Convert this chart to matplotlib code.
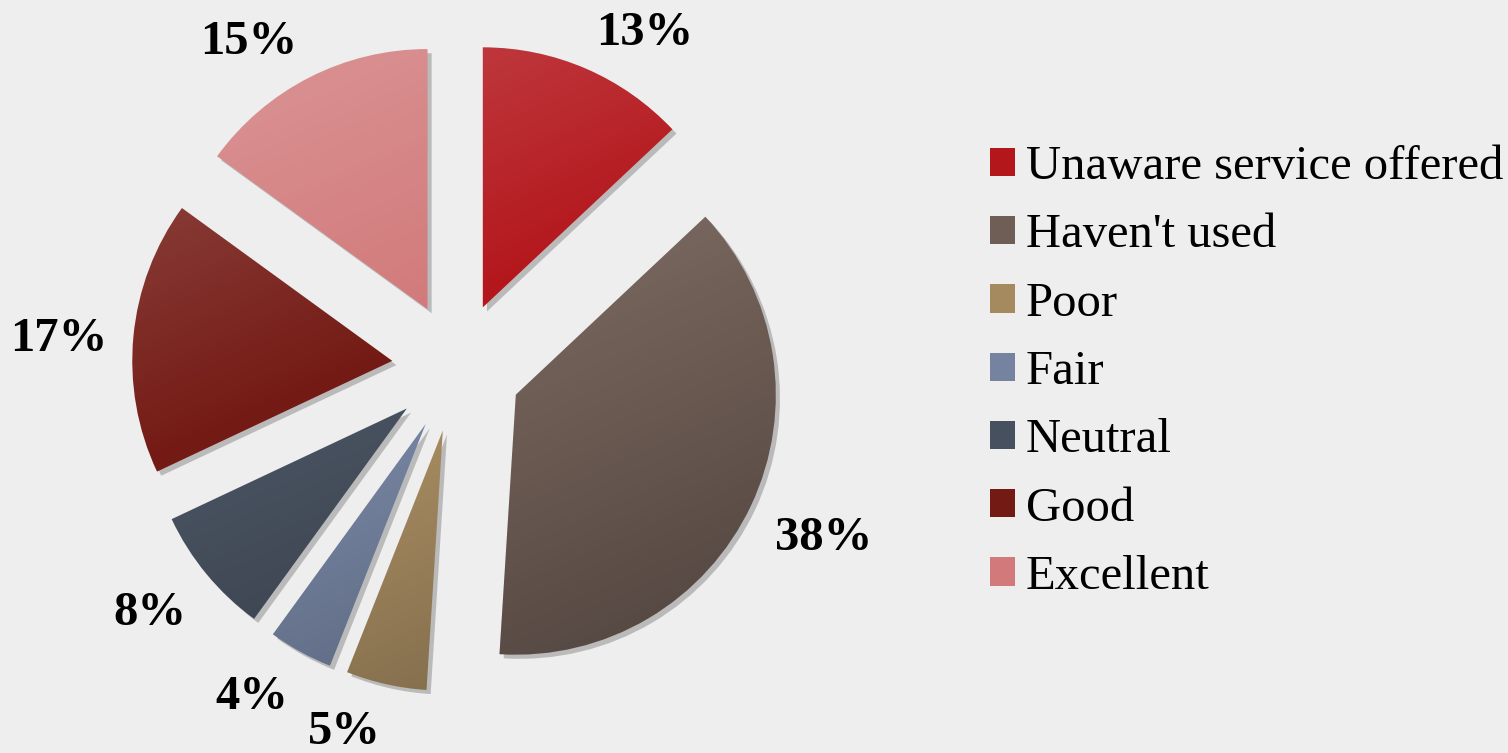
import numpy as np
import matplotlib.pyplot as plt
import matplotlib.patheffects as pe
from matplotlib.patches import Patch

categories = ['Unaware service offered', "Haven't used", 'Poor', 'Fair',
              'Neutral', 'Good', 'Excellent']
shares = [13, 38, 5, 4, 8, 17, 15]
colors = ['#b3161b', '#6f5e56', '#a58a60', '#7583a0', '#47505e', '#741a14', '#d27a7b']

plt.rcParams['font.family'] = ['Liberation Serif', 'DejaVu Serif']

fig = plt.figure(figsize=(15.08, 7.53), dpi=100, facecolor='#eeeeee')
# pie centre at about (457, 367) px, radius 260 px
ax = fig.add_axes([67 / 1508, -4 / 753, 780 / 1508, 780 / 753])
ax.set_facecolor('none')

wedges, texts = ax.pie(
    shares,
    colors=colors,
    startangle=90,
    counterclock=False,
    explode=[0.25] * len(shares),
    labels=[f'{s}%' for s in shares],
    textprops=dict(fontsize=35, fontweight='bold', color='black', zorder=5),
    wedgeprops=dict(linewidth=0),
)

# soft light from top-left inside each slice
g = np.linspace(-1.05, 1.05, 200)
gx, gy = np.meshgrid(g, g)
d = (-0.4 * gx + 0.9 * gy)
shade = np.zeros(gx.shape + (4,))
shade[..., :3] = np.where(d[..., None] > 0, 1.0, 0.0)
shade[..., 3] = np.where(d > 0, d * 0.16, -d * 0.22)

for w, t in zip(wedges, texts):
    w.set_path_effects([pe.SimplePatchShadow(offset=(3, -3), shadow_rgbFace='#444444', alpha=0.3),
                        pe.Normal()])
    cx, cy = w.center
    im = ax.imshow(shade, extent=(cx - 1.05, cx + 1.05, cy - 1.05, cy + 1.05),
                   origin='lower', zorder=2, interpolation='bilinear')
    im.set_clip_path(w)
    # label just outside the arc, box corner facing the slice
    th = np.deg2rad((w.theta1 + w.theta2) / 2)
    c, s = np.cos(th), np.sin(th)
    t.set_position((cx + 1.1 * c, cy + 1.1 * s))
    t.set_horizontalalignment('left' if c > 0.2 else 'right' if c < -0.2 else 'center')
    t.set_verticalalignment('baseline' if s > 0.2 else 'top' if s < -0.2 else 'center_baseline')

ax.set_xlim(-1.5, 1.5)
ax.set_ylim(-1.5, 1.5)
ax.set_aspect('equal')
ax.axis('off')

handles = [Patch(facecolor=col, edgecolor='none') for col in colors]
fig.legend(handles, categories, loc='upper left', bbox_to_anchor=(990 / 1508, 1 - 145 / 753),
           frameon=False, fontsize=35, handlelength=0.52, handleheight=0.52,
           handletextpad=0.22, labelspacing=0.5, borderaxespad=0, borderpad=0)

fig.savefig('out.png', dpi=100, facecolor=fig.get_facecolor())
